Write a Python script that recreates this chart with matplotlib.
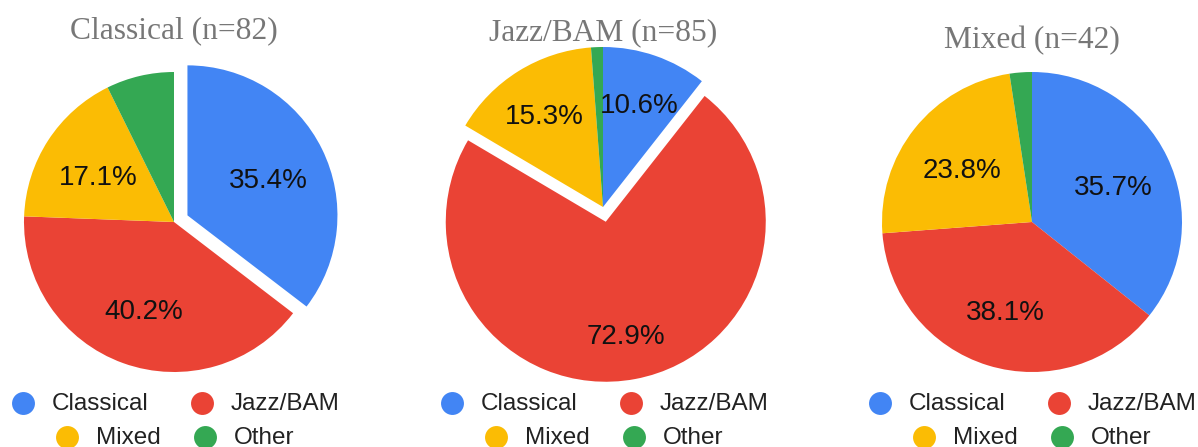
import matplotlib
matplotlib.use("Agg")
import matplotlib.pyplot as plt

# survey groups and how each group answered
titles = ["Classical (n=82)", "Jazz/BAM (n=85)", "Mixed (n=42)"]
categories = ["Classical", "Jazz/BAM", "Mixed", "Other"]
classical_pct = [35.4, 40.2, 17.1, 7.3]
jazz_pct = [10.6, 72.9, 15.3, 1.2]
mixed_pct = [35.7, 38.1, 23.8, 2.4]
exploded = [0, 1, None]   # slice pulled out in each pie

colors = ["#4285F4", "#EA4335", "#FBBC04", "#34A853"]

W, H = 1198, 447
fig = plt.figure(figsize=(W / 100, H / 100), dpi=100)
ax = fig.add_axes([0, 0, 1, 1])

# layout in pixels (y measured from top)
centers = [(174, 222), (603, 207), (1032, 222)]
radii = [150, 160, 150]
pct_dist = [0.6, 0.7, 0.6]
title_y = [38, 40, 48]
legend_x = [23, 452, 880]
pull = 15   # explode offset, in pixels (pie() uses data units)

sans = "Liberation Sans"
serif = "Liberation Serif"

for i, vals in enumerate([classical_pct, jazz_pct, mixed_pct]):
    cx, cy = centers[i]
    explode = [pull if k == exploded[i] else 0 for k in range(len(vals))]
    _, _, autotexts = ax.pie(
        vals, colors=colors, center=(cx, H - cy), radius=radii[i],
        startangle=90, counterclock=False, explode=explode,
        autopct=lambda p: f"{p:.1f}%" if p >= 8 else "",
        pctdistance=pct_dist[i], wedgeprops=dict(linewidth=0),
        frame=True)
    for t in autotexts:
        t.set_fontsize(20)
        t.set_family(sans)
        t.set_color("#111111")
        tx, ty = t.get_position()
        t.set_position((tx, ty - 5))
    ax.text(cx, H - title_y[i], titles[i], ha="center", va="baseline",
            fontsize=22.7, family=serif, color="#777777")

    # two-row legend under each pie
    lx = legend_x[i]
    rows = [(0, 0, 403), (1, 179, 403), (2, 44, 437), (3, 182, 437)]
    for k, dx, y in rows:
        ax.plot(lx + dx, H - y, "o", ms=16.5, color=colors[k], mec="none")
        ax.text(lx + dx + 29, H - y - 1, categories[k], ha="left",
                va="center", fontsize=17.5, family=sans, color="#222222")

ax.set_xlim(0, W)
ax.set_ylim(0, H)
ax.set_aspect("auto")
ax.axis("off")

fig.savefig("out.png", dpi=100)
